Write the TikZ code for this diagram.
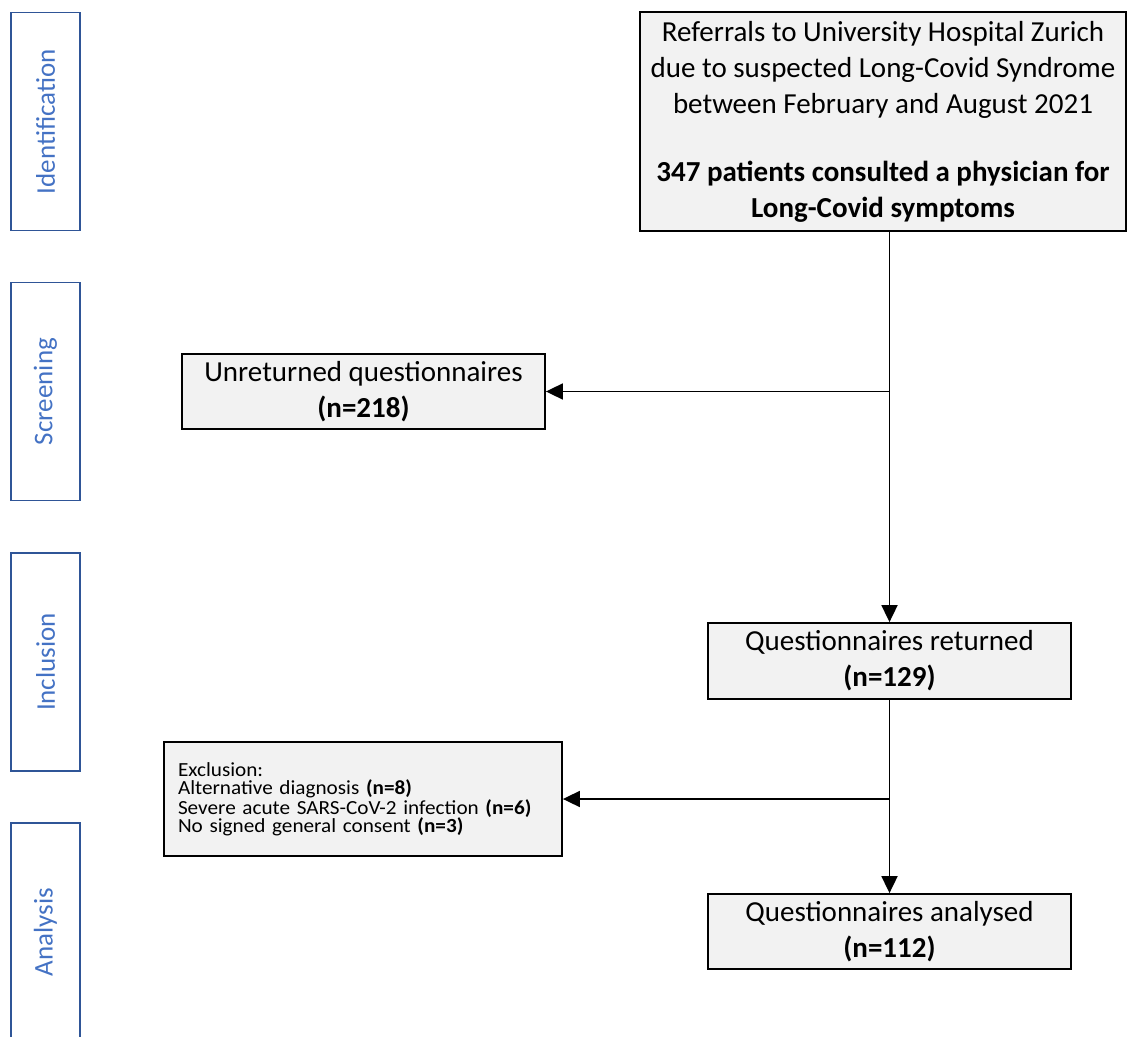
\documentclass[tikz,border=0pt]{standalone}
\usepackage{fontspec}
\setmainfont{Carlito}
\newfontfamily\exclfont[FakeStretch=1.06]{Carlito}
\usetikzlibrary{arrows.meta}
\definecolor{sideborder}{HTML}{2F5597}
\definecolor{sidetext}{HTML}{4472C4}
\definecolor{boxfill}{HTML}{F2F2F2}
\begin{document}
\begin{tikzpicture}[x=0.5pt,y=-0.5pt,
  flowbox/.style={draw=black, line width=0.9pt, fill=boxfill, inner sep=0pt, align=center,
    font=\fontsize{14.5pt}{18pt}\selectfont},
  sidebox/.style={draw=sideborder, line width=0.9pt, inner sep=0pt,
    minimum width=34.5pt, minimum height=109pt},
  sidelabel/.style={text=sidetext, rotate=90, font=\fontsize{13.5pt}{16pt}\selectfont},
  arr/.style={draw=black, line width=0.9pt, -{Triangle[length=8.5pt,width=8pt]}},
  ln/.style={draw=black, line width=0.9pt}]
\useasboundingbox (0,0) rectangle (1128,1037);
\begin{scope}
\clip (0,0) rectangle (1128,1037);
% side boxes
\node[sidebox] (sid) at (45.5,121.5) {};
\node[sidelabel] (sidt) at (sid.center) {Identification};
\node[sidebox] (sscr) at (45.5,391.5) {};
\node[sidelabel] (sscrt) at (sscr.center) {Screening};
\node[sidebox] (sinc) at (45.5,662) {};
\node[sidelabel] (sinct) at (sinc.center) {Inclusion};
\node[sidebox] (sana) at (45.5,932) {};
\node[sidelabel] (sanat) at (sana.center) {Analysis};
\end{scope}
% flow boxes
\node[flowbox, minimum width=243pt, minimum height=109.5pt] (top) at (883,121.5)
  {Referrals to University Hospital Zurich\\ due to suspected Long-Covid Syndrome\\ between February and August 2021\\[16pt]
   \textbf{347 patients consulted a physician for}\\ \textbf{Long-Covid symptoms}};
\node[flowbox, minimum width=181.5pt, minimum height=37.5pt] (unret) at (363.5,391.5)
  {Unreturned questionnaires\\ \textbf{(n=218)}};
\node[flowbox, minimum width=181.5pt, minimum height=38pt] (ret) at (889.5,661)
  {Questionnaires returned\\ \textbf{(n=129)}};
\node[flowbox, minimum width=199pt, minimum height=57pt, align=left, text width=185pt,
  inner xsep=7pt, font=\exclfont\fontsize{10pt}{9pt}\selectfont] (excl) at (363,799)
  {Exclusion:\\ Alternative diagnosis \textbf{(n=8)}\\ Severe acute SARS-CoV-2 infection \textbf{(n=6)}\\ No signed general consent \textbf{(n=3)}};
\node[flowbox, minimum width=181.5pt, minimum height=37.5pt] (anal) at (889.5,931.5)
  {Questionnaires analysed\\ \textbf{(n=112)}};
% connectors
\draw[arr] (top.south -| ret.north) -- (ret.north);
\draw[arr] (unret.east -| ret.north) -- (unret.east);
\draw[arr] (ret.south) -- (anal.north);
\draw[arr] (excl.east -| ret.south) -- (excl.east);
\end{tikzpicture}
\end{document}
